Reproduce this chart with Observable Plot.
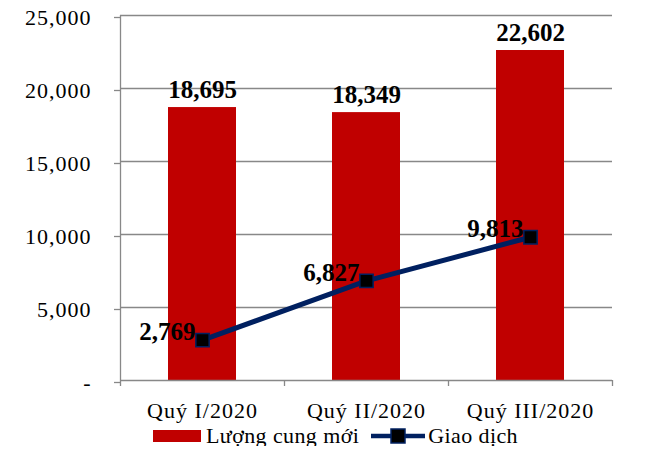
<!DOCTYPE html>
<html>
<head>
<meta charset="utf-8">
<script src="https://cdn.jsdelivr.net/npm/d3@7"></script>
<script src="https://cdn.jsdelivr.net/npm/@observablehq/plot@0.6"></script>
<style>
  html, body { margin: 0; padding: 0; background: #fff; }
  #chart { width: 659px; font-family: "Liberation Serif", "Times New Roman", serif; }
  #chart svg g[aria-label="y-axis tick label"] text { letter-spacing: 1px; }
  #chart svg g[aria-label="x-axis tick label"] text { letter-spacing: 1px; }
  .legend { display: flex; align-items: center; height: 20px; padding-left: 153px; font-size: 22px; line-height: 20px; color: #000; letter-spacing: 0.4px; }
  .legend .sw-bar { width: 48px; height: 12px; background: #C00000; margin-right: 5px; }
  .legend .sw-line { width: 54px; height: 16px; margin-left: 12px; margin-right: 3px; }
</style>
</head>
<body>
<div id="chart"></div>
<script>
const categories = ["Quý I/2020", "Quý II/2020", "Quý III/2020"];
const supplyValues = [18695, 18349, 22602];
const transactionValues = [2769, 6827, 9813];
const yTicks = [0, 5000, 10000, 15000, 20000, 25000];
const seriesNames = ["Lượng cung mới", "Giao dịch"];

const barColor = "#C00000";
const lineColor = "#002060";
const gridColor = "#888888";

const rows = categories.map((c, i) => ({cat: c, supply: supplyValues[i], trans: transactionValues[i]}));
const fmt = d3.format(",");

const plot = Plot.plot({
  width: 659,
  height: 426,
  marginLeft: 120,
  marginRight: 47,
  marginTop: 15,
  marginBottom: 46,
  style: {fontFamily: "'Liberation Serif', 'Times New Roman', serif", fontSize: "22px", background: "#fff", color: "#000"},
  x: {type: "band", domain: categories, padding: 0, label: null},
  y: {domain: [0, 25000], label: null},
  marks: [
    Plot.ruleY(yTicks.filter(d => d > 0), {stroke: gridColor, strokeWidth: 1.3}),
    Plot.barY(rows, {x: "cat", y: "supply", fill: barColor, insetLeft: 48, insetRight: 48}),
    // axis lines
    Plot.ruleY([0], {stroke: gridColor, strokeWidth: 1.3}),
    Plot.ruleX([categories[0]], {x: d => d, y1: 0, y2: 25000, dx: -82, stroke: gridColor, strokeWidth: 1.3}),
    // x category boundary ticks
    Plot.ruleX(categories, {x: d => d, y1: 0, y2: 0, insetBottom: -6, dx: -82, stroke: gridColor, strokeWidth: 1.3}),
    Plot.ruleX([categories[categories.length - 1]], {x: d => d, y1: 0, y2: 0, insetBottom: -6, dx: 82, stroke: gridColor, strokeWidth: 1.3}),
    Plot.axisY({ticks: yTicks, tickFormat: d => d === 0 ? "-" : fmt(d), tickSize: 6, tickPadding: 23, stroke: gridColor, fill: "#000", fontSize: 22, dy: 2, strokeWidth: 1.3, label: null}),
    Plot.axisX({tickSize: 0, tickPadding: 22, fill: "#000", fontSize: 22, label: null}),
    // bar labels
    Plot.text(rows, {x: "cat", y: "supply", text: d => fmt(d.supply), lineAnchor: "bottom", dy: -10, fontSize: 25, fontWeight: "bold", fill: "#000"}),
    // line
    Plot.line(rows, {x: "cat", y: "trans", stroke: lineColor, strokeWidth: 5}),
    Plot.dot(rows, {x: "cat", y: "trans", symbol: "square", r: 7.5, fill: "#000", stroke: lineColor, strokeWidth: 1.5}),
    Plot.text(rows, {x: "cat", y: "trans", text: d => fmt(d.trans), textAnchor: "end", lineAnchor: "bottom", dx: -7, dy: 0, fontSize: 25, fontWeight: "bold", fill: "#000"})
  ]
});

const chart = document.getElementById("chart");
chart.appendChild(plot);

const legend = document.createElement("div");
legend.className = "legend";
legend.innerHTML = `<span class="sw-bar"></span><span>${seriesNames[0]}</span>
<svg class="sw-line" viewBox="0 0 54 16"><line x1="0" y1="8" x2="54" y2="8" stroke="${lineColor}" stroke-width="4.5" stroke-linecap="round"/><rect x="20" y="1" width="14" height="14" fill="#000" stroke="${lineColor}" stroke-width="1.5"/></svg><span>${seriesNames[1]}</span>`;
chart.appendChild(legend);
</script>
</body>
</html>
